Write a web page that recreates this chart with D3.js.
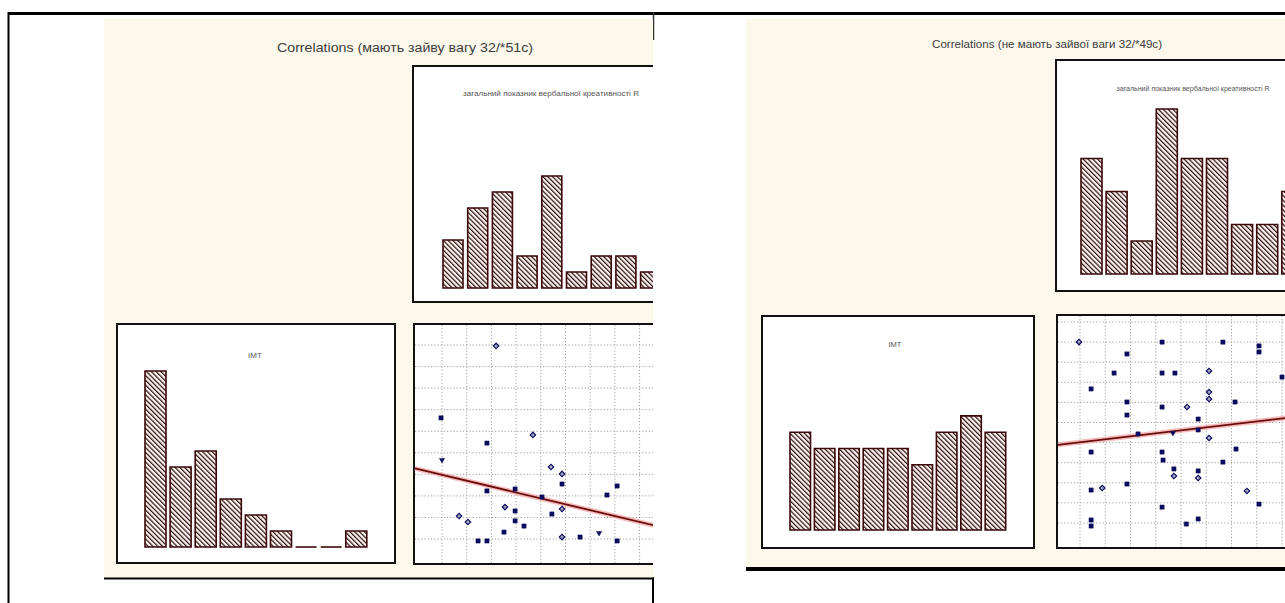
<!DOCTYPE html>
<html>
<head>
<meta charset="utf-8">
<script src="https://cdn.jsdelivr.net/npm/d3@7"></script>
<style>
  html, body { margin: 0; padding: 0; background: #ffffff; }
  svg { display: block; }
</style>
</head>
<body>
<svg id="chart" width="1285" height="603"></svg>
<script>
// ---- data -------------------------------------------------------------
// histogram bins shared by every histogram
const bins = ["1", "2", "3", "4", "5", "6", "7", "8", "9"];

// group with excess weight
const overScoreCounts = [3, 5, 6, 2, 7, 1, 2, 2, 1];
const overImtCounts   = [11, 5, 6, 3, 2, 1, 0, 0, 1];
const overXs = [3.19, 0.96, 2.82, 4.68, 1.00, 5.41, 5.86, 5.86, 2.82, 3.96, 5.05, 7.68, 8.09, 3.55,
                3.96, 1.69, 2.05, 3.96, 4.32, 5.45, 5.86, 3.51, 2.46, 2.82, 5.86, 6.59, 7.36, 8.09];
const overYs = [9.96, 6.62, 5.45, 5.83, 4.67, 4.34, 4.02, 3.55, 3.23, 3.32, 2.95, 3.04, 3.46, 2.48,
                2.30, 2.07, 1.79, 1.84, 1.60, 2.16, 2.39, 1.32, 0.91, 0.91, 1.09, 1.09, 1.28, 0.91];
const overMarks = ["d","s","s","d","v","d","d","s","s","s","s","s","s","d",
                   "s","d","d","s","s","s","d","s","s","s","d","s","v","s"];
const overFit = [4.25, -0.273];   // intercept, slope

// group without excess weight
const normScoreCounts = [7, 5, 2, 10, 7, 7, 3, 3, 5];
const normImtCounts   = [6, 5, 5, 5, 5, 4, 6, 7, 6];
const normXs = [0.96, 4.25, 6.66, 8.09, 8.09, 2.86, 2.35, 4.25, 4.76, 6.11, 9.00, 1.44, 6.11, 6.11,
                2.86, 4.25, 5.24, 7.14, 2.86, 5.68, 5.68, 4.68, 3.30, 6.11, 1.44, 4.25, 4.29, 7.18,
                6.66, 4.72, 4.72, 5.68, 5.68, 2.86, 1.44, 1.88, 7.61, 8.09, 4.25, 1.44, 1.44, 5.21, 5.68];
const normYs = [10.0, 10.0, 10.0, 9.81, 9.51, 9.41, 8.46, 8.46, 8.46, 8.56, 8.26, 7.67, 7.52, 7.17,
                7.02, 6.77, 6.77, 7.02, 6.37, 6.17, 5.63, 5.48, 5.43, 5.23, 4.53, 4.53, 4.13, 4.68,
                4.03, 3.34, 3.69, 3.59, 3.24, 2.94, 2.64, 2.74, 2.59, 1.94, 1.79, 1.15, 0.85, 0.95, 1.20];
const normMarks = ["d","s","s","s","s","s","s","s","s","d","s","s","d","d",
                   "s","s","d","s","s","s","s","v","s","d","s","s","s","s",
                   "s","d","s","s","d","s","s","d","d","s","s","s","s","s","s"];
const normFit = [4.87, 0.148];

// texts
const panelTitles = ["Correlations (мають зайву вагу 32/*51c)",
                     "Correlations (не мають зайвої ваги 32/*49c)"];
const scoreLabel = "загальний показник вербальної креативності R";
const imtLabel = "ІМТ";
const gridXTicks = [1, 2, 3, 4, 5, 6, 7, 8, 9, 10];
const gridYTicks = [1, 2, 3, 4, 5, 6, 7, 8, 9, 10, 11];

// ---- layout of the two panels ------------------------------------------
const layouts = [
  {
    id: "over",
    area: [104, 19, 653, 578],
    title: { x: 405, y: 52, size: 12.5, len: 256 },
    topBox: [413, 66, 720, 302],
    topLabel: { x: 551, y: 96, size: 8, len: 176 },
    topBars: { x0: 443, step: 24.7, bw: 20, base: 288, unit: 16 },
    imtBox: [117, 324, 395, 563],
    imtLabel: { x: 255, y: 358, size: 8 },
    imtBars: { x0: 145, step: 25.1, bw: 21, base: 547, unit: 16 },
    scatBox: [414, 324, 720, 564],
    sx: { o: 417.3, k: 24.7 },
    sy: { o: 560.55, k: 21.55 },
    scores: overScoreCounts, imts: overImtCounts,
    xs: overXs, ys: overYs, marks: overMarks, fit: overFit, titleText: panelTitles[0]
  },
  {
    id: "norm",
    area: [746, 19, 1285, 567],
    title: { x: 1047, y: 48, size: 11, len: 230 },
    topBox: [1056, 60, 1320, 291],
    topLabel: { x: 1193, y: 91, size: 7, len: 153 },
    topBars: { x0: 1081, step: 25.1, bw: 21, base: 274, unit: 16.5 },
    imtBox: [762, 316, 1034, 548],
    imtLabel: { x: 895, y: 347, size: 7.5 },
    imtBars: { x0: 790, step: 24.4, bw: 20.5, base: 530, unit: 16.3 },
    scatBox: [1057, 315, 1320, 548],
    sx: { o: 1054.75, k: 25.25 },
    sy: { o: 543.1, k: 20.1 },
    scores: normScoreCounts, imts: normImtCounts,
    xs: normXs, ys: normYs, marks: normMarks, fit: normFit, titleText: panelTitles[1]
  }
];

const svg = d3.select("#chart");
const defs = svg.append("defs");

// diagonal hatching used inside the histogram bars
const hatch = defs.append("pattern")
  .attr("id", "hatch")
  .attr("patternUnits", "userSpaceOnUse")
  .attr("width", 3.4).attr("height", 3.4)
  .attr("patternTransform", "rotate(-45)");
hatch.append("rect").attr("width", 3.4).attr("height", 3.4).attr("fill", "#fff6f4");
hatch.append("line").attr("x1", 0.6).attr("y1", 0).attr("x2", 0.6).attr("y2", 3.4)
  .attr("stroke", "#2b0c0c").attr("stroke-width", 1.2);

// page frame lines
svg.append("line").attr("x1", 8).attr("x2", 1285).attr("y1", 13.5).attr("y2", 13.5)
  .attr("stroke", "#000").attr("stroke-width", 3);
svg.append("line").attr("x1", 8.5).attr("x2", 8.5).attr("y1", 12).attr("y2", 603)
  .attr("stroke", "#000").attr("stroke-width", 2);
svg.append("line").attr("x1", 653.5).attr("x2", 653.5).attr("y1", 12).attr("y2", 40)
  .attr("stroke", "#333").attr("stroke-width", 1.5);
svg.append("line").attr("x1", 653).attr("x2", 653).attr("y1", 577).attr("y2", 603)
  .attr("stroke", "#000").attr("stroke-width", 2);

function drawHistogram(g, counts, cfg) {
  const pad = cfg.step - cfg.bw;
  const start = cfg.x0 - pad / 2;
  const x = d3.scaleBand().domain(bins)
    .range([start, start + bins.length * cfg.step])
    .paddingInner(pad / cfg.step)
    .paddingOuter(pad / cfg.step / 2);
  const y = d3.scaleLinear().domain([0, 12]).range([cfg.base, cfg.base - 12 * cfg.unit]);
  // outline path so empty bins still show as a flat line on the base
  g.selectAll(null).data(counts).join("path")
    .attr("d", (d, i) => {
      const x0 = x(bins[i]), x1 = x0 + x.bandwidth();
      return d > 0
        ? `M${x0},${y(0)}V${y(d)}H${x1}V${y(0)}Z`
        : `M${x0},${y(0)}H${x1}`;
    })
    .attr("fill", d => d > 0 ? "url(#hatch)" : "none")
    .attr("stroke", "#3a0808")
    .attr("stroke-width", 1.6);
}

function box(g, b) {
  g.append("rect")
    .attr("x", b[0]).attr("y", b[1])
    .attr("width", b[2] - b[0]).attr("height", b[3] - b[1])
    .attr("fill", "#ffffff").attr("stroke", "#111").attr("stroke-width", 2);
}

layouts.forEach(L => {
  const [ax0, ay0, ax1, ay1] = L.area;
  defs.append("clipPath").attr("id", "clip-" + L.id)
    .append("rect").attr("x", ax0).attr("y", ay0).attr("width", ax1 - ax0).attr("height", ay1 - ay0);

  const g = svg.append("g").attr("clip-path", `url(#clip-${L.id})`);
  g.append("rect").attr("x", ax0).attr("y", ay0).attr("width", ax1 - ax0).attr("height", ay1 - ay0)
    .attr("fill", "#fdf8ec");

  // panel title
  g.append("text")
    .attr("x", L.title.x).attr("y", L.title.y)
    .attr("text-anchor", "middle")
    .attr("font-family", "'Liberation Sans', Arial, sans-serif")
    .attr("font-size", L.title.size)
    .attr("fill", "#3c3c3c")
    .attr("textLength", L.title.len).attr("lengthAdjust", "spacingAndGlyphs")
    .text(L.titleText);

  // score histogram (top right)
  box(g, L.topBox);
  g.append("text")
    .attr("x", L.topLabel.x).attr("y", L.topLabel.y)
    .attr("text-anchor", "middle")
    .attr("font-family", "'Liberation Sans', Arial, sans-serif")
    .attr("font-size", L.topLabel.size)
    .attr("fill", "#555")
    .attr("textLength", L.topLabel.len).attr("lengthAdjust", "spacingAndGlyphs")
    .text(scoreLabel);
  drawHistogram(g, L.scores, L.topBars);

  // IMT histogram (bottom left)
  box(g, L.imtBox);
  g.append("text")
    .attr("x", L.imtLabel.x).attr("y", L.imtLabel.y)
    .attr("text-anchor", "middle")
    .attr("font-family", "'Liberation Sans', Arial, sans-serif")
    .attr("font-size", L.imtLabel.size)
    .attr("fill", "#555")
    .text(imtLabel);
  drawHistogram(g, L.imts, L.imtBars);

  // scatter with fitted line (bottom right)
  box(g, L.scatBox);
  const sb = L.scatBox;
  const x = d3.scaleLinear().domain([0, 10]).range([L.sx.o, L.sx.o + 10 * L.sx.k]);
  const y = d3.scaleLinear().domain([0, 10]).range([L.sy.o, L.sy.o - 10 * L.sy.k]);
  const grid = g.append("g").attr("stroke", "#a0a0a0").attr("stroke-width", 1)
    .attr("stroke-dasharray", "1.2,2");
  gridXTicks.filter(v => x(v) > sb[0] + 2 && x(v) < sb[2] - 2).forEach(v => {
    grid.append("line").attr("x1", x(v)).attr("x2", x(v)).attr("y1", sb[1] + 1).attr("y2", sb[3] - 1);
  });
  gridYTicks.filter(v => y(v) > sb[1] + 2 && y(v) < sb[3] - 2).forEach(v => {
    grid.append("line").attr("x1", sb[0] + 1).attr("x2", sb[2] - 1).attr("y1", y(v)).attr("y2", y(v));
  });

  const xA = x.invert(sb[0] + 1), xB = x.invert(sb[2] - 1);
  const fitLine = d3.line().x(d => x(d)).y(d => y(L.fit[0] + L.fit[1] * d));
  g.append("path").attr("d", fitLine([xA, xB]))
    .attr("fill", "none").attr("stroke", "#f3a3a3").attr("stroke-width", 5).attr("opacity", 0.7);
  g.append("path").attr("d", fitLine([xA, xB]))
    .attr("fill", "none").attr("stroke", "#6a0c0c").attr("stroke-width", 1.8);

  const symbols = {
    s: d3.symbol().type(d3.symbolSquare).size(18),
    d: d3.symbol().type(d3.symbolSquare).size(14),
    v: d3.symbol().type(d3.symbolTriangle).size(12)
  };
  const rot = { s: "", d: " rotate(45)", v: " rotate(180)" };
  const pts = g.selectAll(null).data(L.xs).join("g")
    .attr("transform", (d, i) => `translate(${x(d)},${y(L.ys[i])})` + rot[L.marks[i]]);
  pts.append("path")
    .attr("d", (d, i) => symbols[L.marks[i]]())
    .attr("fill", (d, i) => L.marks[i] === "d" ? "#ffffff" : "#0c0c5e")
    .attr("stroke", "#0c0c5e")
    .attr("stroke-width", (d, i) => L.marks[i] === "d" ? 1.3 : 0.5);
  // centre dot of the open diamonds
  pts.filter((d, i) => L.marks[i] === "d").append("rect")
    .attr("x", -0.6).attr("y", -0.6).attr("width", 1.2).attr("height", 1.2)
    .attr("fill", "#0c0c5e");
});

// bottom rules under the panels
svg.append("line").attr("x1", 104).attr("x2", 653).attr("y1", 578.5).attr("y2", 578.5)
  .attr("stroke", "#000").attr("stroke-width", 2);
svg.append("line").attr("x1", 746).attr("x2", 1285).attr("y1", 569).attr("y2", 569)
  .attr("stroke", "#000").attr("stroke-width", 4);
</script>
</body>
</html>
